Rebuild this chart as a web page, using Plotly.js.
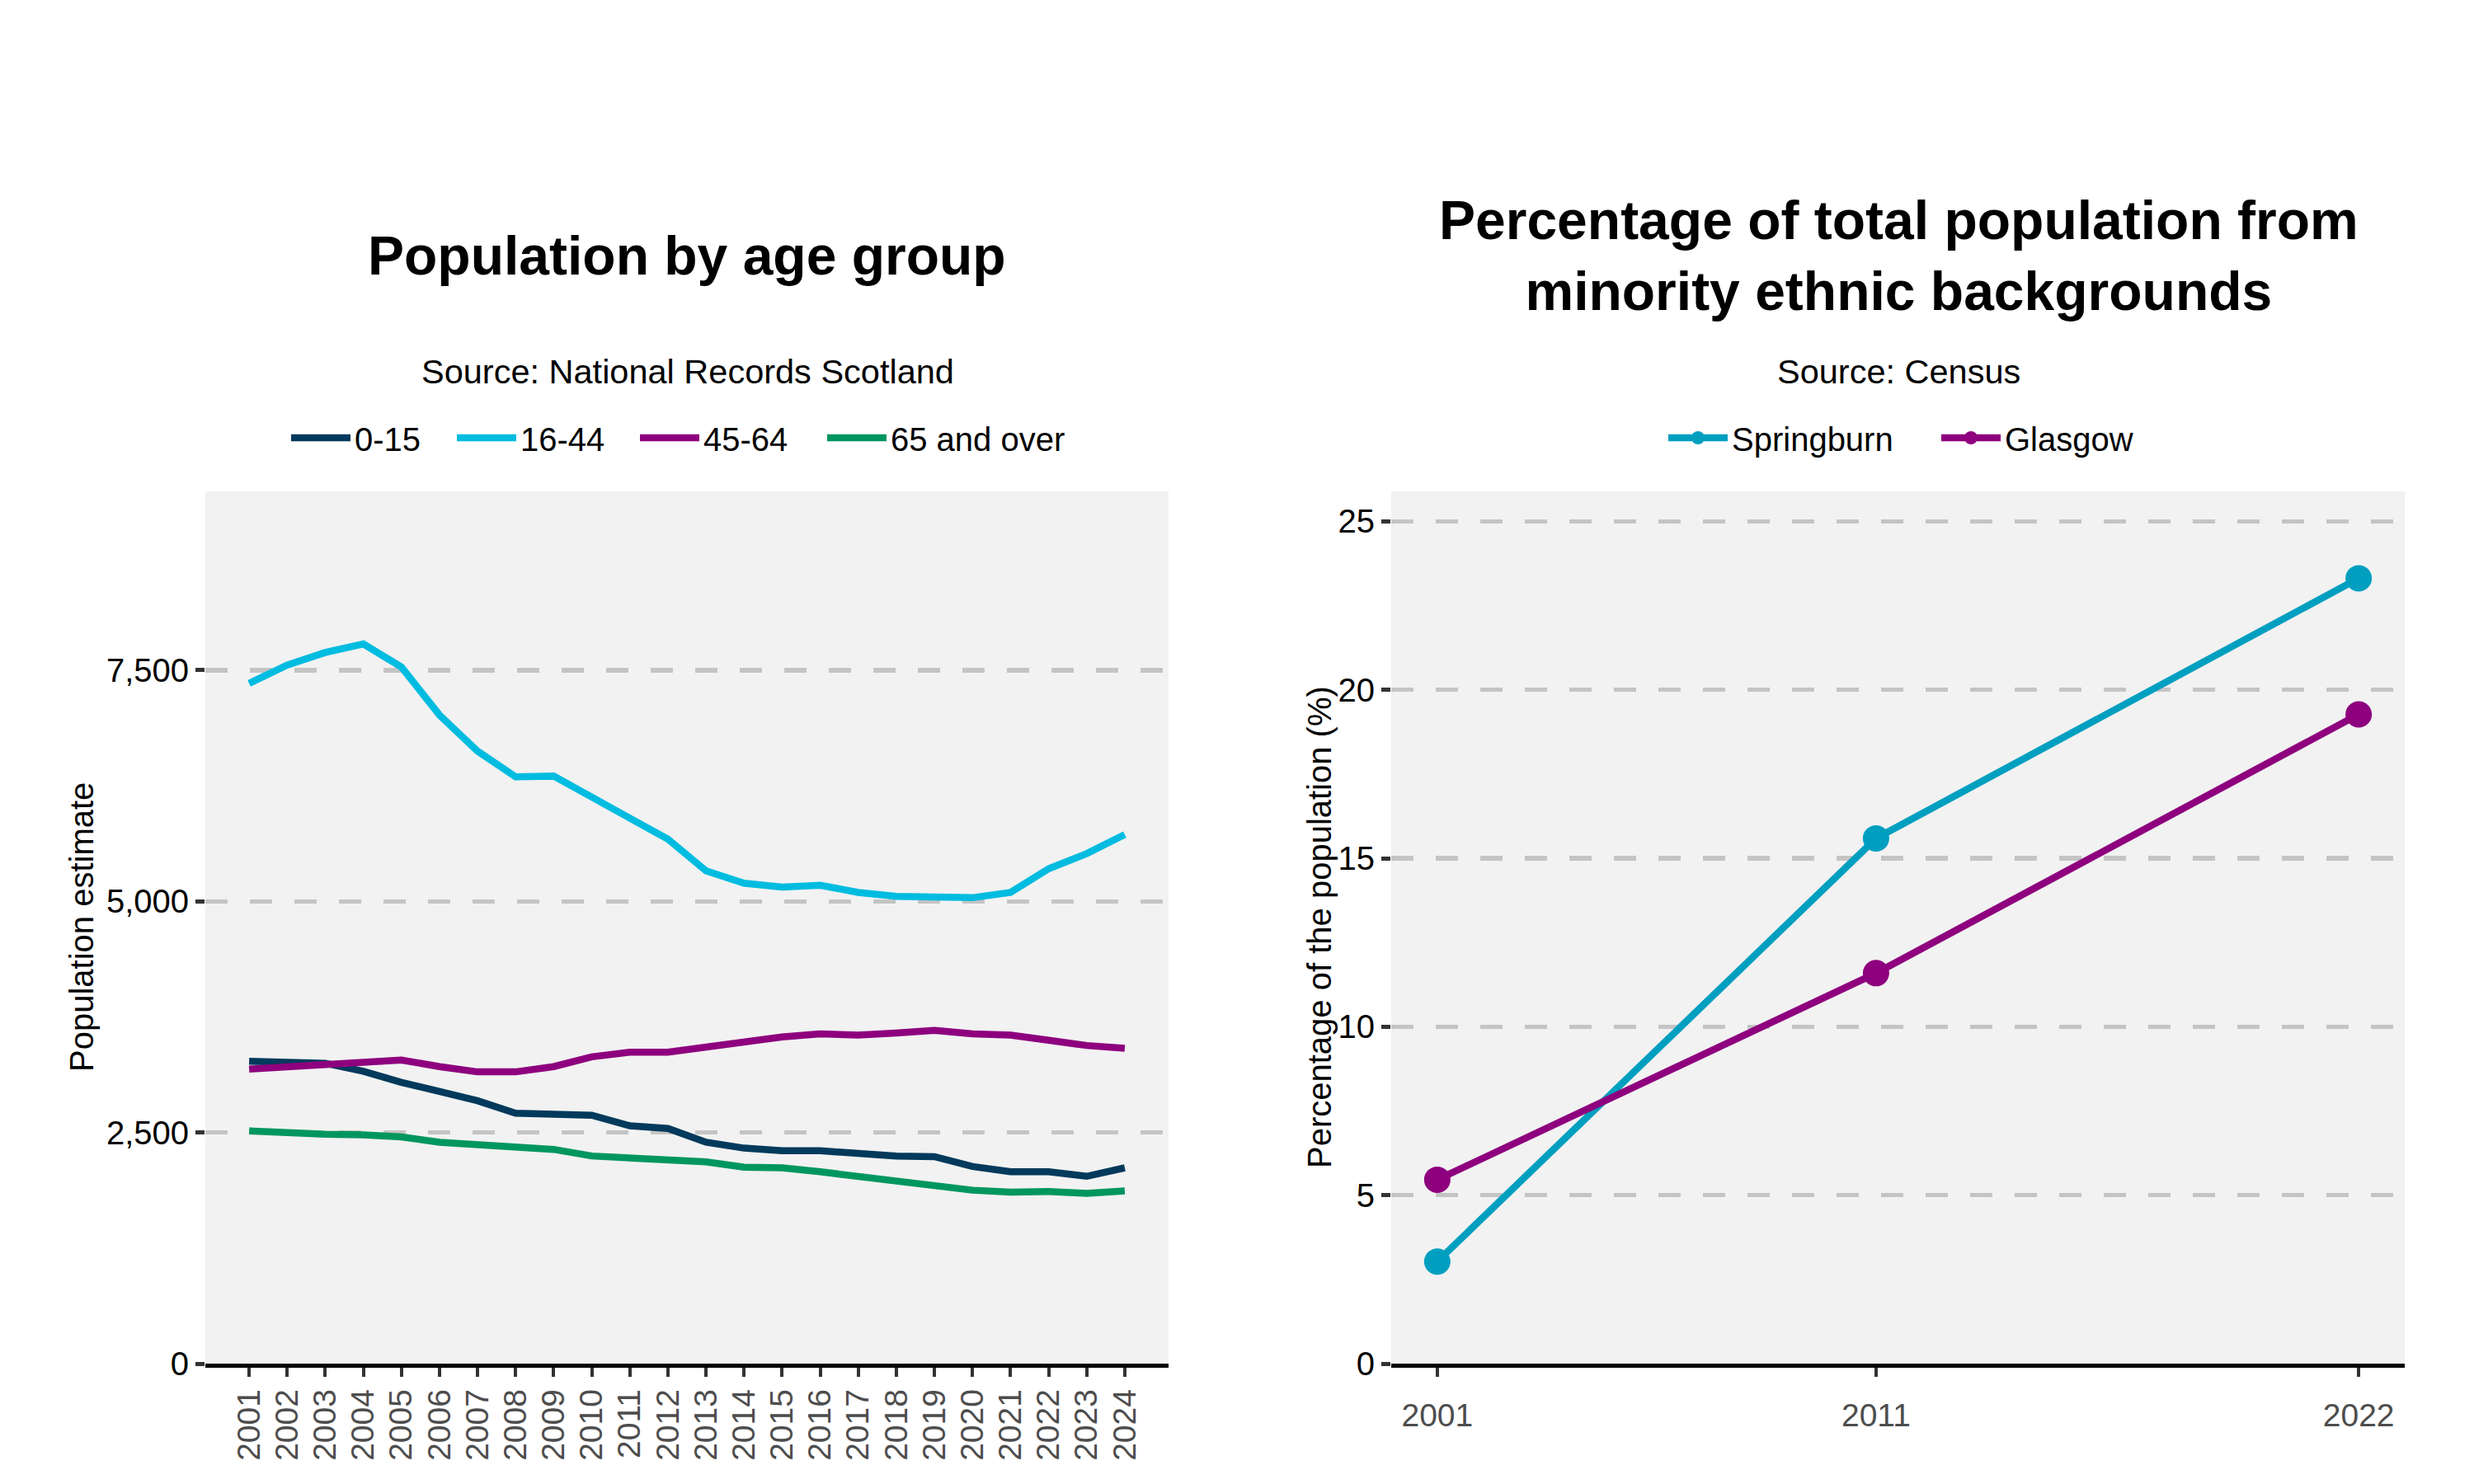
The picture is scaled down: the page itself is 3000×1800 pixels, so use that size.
<!DOCTYPE html>
<html>
<head>
<meta charset="utf-8">
<script src="https://cdn.plot.ly/plotly-3.0.1.min.js"></script>
<style>
  html, body { margin: 0; padding: 0; background: #ffffff; }
  #chart { width: 3000px; height: 1800px; }
</style>
</head>
<body>
<div id="chart"></div>
<script>
// ---- Data: population by age group (National Records Scotland) ----
const years = [2001, 2002, 2003, 2004, 2005, 2006, 2007, 2008, 2009, 2010, 2011, 2012,
               2013, 2014, 2015, 2016, 2017, 2018, 2019, 2020, 2021, 2022, 2023, 2024];
const yearLabels = ["2001", "2002", "2003", "2004", "2005", "2006", "2007", "2008", "2009", "2010", "2011", "2012",
                    "2013", "2014", "2015", "2016", "2017", "2018", "2019", "2020", "2021", "2022", "2023", "2024"];
const age0to15 = [3270, 3256, 3249, 3163, 3042, 2943, 2843, 2708, 2701, 2687, 2573, 2544,
                  2395, 2331, 2303, 2303, 2274, 2246, 2239, 2132, 2075, 2075, 2026, 2118];
const age16to44 = [7358, 7557, 7692, 7784, 7535, 7016, 6625, 6348, 6355, 6135, 5900, 5673,
                   5331, 5197, 5154, 5175, 5097, 5054, 5047, 5040, 5097, 5353, 5517, 5723];
const age45to64 = [3185, 3213, 3242, 3263, 3284, 3213, 3156, 3156, 3213, 3319, 3369, 3369,
                   3426, 3476, 3533, 3568, 3554, 3575, 3604, 3568, 3554, 3498, 3441, 3412];
const age65plus = [2517, 2495, 2481, 2474, 2453, 2395, 2374, 2345, 2317, 2246, 2225, 2197,
                   2182, 2125, 2118, 2075, 2026, 1976, 1919, 1876, 1855, 1862, 1841, 1869];
const popTickVals = [0, 2500, 5000, 7500];
const popTickText = ["0", "2,500", "5,000", "7,500"];

// ---- Data: minority ethnic share (Census) ----
const censusYears = [2001, 2011, 2022];
const censusLabels = ["2001", "2011", "2022"];
const springburnPct = [3.03, 15.59, 23.31];
const glasgowPct = [5.46, 11.59, 19.27];
const pctTickVals = [0, 5, 10, 15, 20, 25];

// ---- Styling ----
const FONT = "Liberation Sans, Arial, Helvetica, sans-serif";
const C_015 = "#033a5c", C_1644 = "#00bce0", C_4564 = "#8e007e", C_65 = "#00965f";
const C_SPR = "#009fc0", C_GLA = "#8e007e";
const LW = 8.5;

const traces = [
  {x: years, y: age0to15, name: "0-15", type: "scatter", mode: "lines",
   line: {color: C_015, width: LW}, xaxis: "x", yaxis: "y", legend: "legend"},
  {x: years, y: age16to44, name: "16-44", type: "scatter", mode: "lines",
   line: {color: C_1644, width: LW}, xaxis: "x", yaxis: "y", legend: "legend2"},
  {x: years, y: age45to64, name: "45-64", type: "scatter", mode: "lines",
   line: {color: C_4564, width: LW}, xaxis: "x", yaxis: "y", legend: "legend3"},
  {x: years, y: age65plus, name: "65 and over", type: "scatter", mode: "lines",
   line: {color: C_65, width: LW}, xaxis: "x", yaxis: "y", legend: "legend4"},
  {x: censusYears, y: springburnPct, name: "Springburn", type: "scatter", mode: "lines+markers",
   line: {color: C_SPR, width: LW}, marker: {color: C_SPR, size: 32},
   xaxis: "x2", yaxis: "y2", legend: "legend5"},
  {x: censusYears, y: glasgowPct, name: "Glasgow", type: "scatter", mode: "lines+markers",
   line: {color: C_GLA, width: LW}, marker: {color: C_GLA, size: 32},
   xaxis: "x2", yaxis: "y2", legend: "legend6"}
];

const W = 3000, H = 1800;
const px = v => v / W;
const py = v => (H - v) / H;

const xCommon = {
  showgrid: false, zeroline: false, showline: true, linecolor: "#000000", linewidth: 4.5,
  ticks: "outside", ticklen: 11, tickwidth: 4, tickcolor: "#333333",
  tickfont: {family: FONT, size: 39, color: "#4d4d4d"}, automargin: false, fixedrange: true
};
const yCommon = {
  showgrid: true, gridcolor: "#c4c4c4", gridwidth: 5.5, griddash: "27px,27px",
  zeroline: false, showline: false,
  ticks: "outside", ticklen: 11, tickwidth: 5, tickcolor: "#333333",
  tickfont: {family: FONT, size: 40, color: "#000000"}, automargin: false, fixedrange: true
};

// one legend box per entry so each entry sits where the reference puts it
const legendAt = xPix => ({
  orientation: "h", x: px(xPix), y: py(531), xanchor: "left", yanchor: "middle",
  font: {family: FONT, size: 40, color: "#000000"}, bgcolor: "rgba(0,0,0,0)",
  itemwidth: 72, tracegroupgap: 0
});

const layout = {
  width: W, height: H,
  margin: {l: 0, r: 0, t: 0, b: 0},
  paper_bgcolor: "#ffffff",
  plot_bgcolor: "#f2f2f2",
  font: {family: FONT, size: 40, color: "#000000"},
  showlegend: true,
  hovermode: false,
  xaxis: Object.assign({}, xCommon, {
    domain: [px(249), px(1417)], range: [1999.85, 2025.15],
    tickvals: years, ticktext: yearLabels, tickangle: -90, anchor: "y"
  }),
  yaxis: Object.assign({}, yCommon, {
    domain: [py(1654), py(596)], range: [0, 9435],
    tickvals: popTickVals, ticktext: popTickText, anchor: "x"
  }),
  xaxis2: Object.assign({}, xCommon, {
    domain: [px(1687), px(2916)], range: [1999.95, 2023.05],
    tickvals: censusYears, ticktext: censusLabels, tickangle: 0, anchor: "y2",
    ticklabelstandoff: 14
  }),
  yaxis2: Object.assign({}, yCommon, {
    domain: [py(1654), py(596)], range: [0, 25.89],
    tickvals: pctTickVals, anchor: "x2"
  }),
  legend: legendAt(348),
  legend2: legendAt(549),
  legend3: legendAt(771),
  legend4: legendAt(998),
  legend5: legendAt(2018),
  legend6: legendAt(2349),
  annotations: [
    {text: "<b>Population by age group</b>", xref: "paper", yref: "paper",
     x: px(833), y: py(310), xanchor: "center", yanchor: "middle", showarrow: false,
     font: {family: FONT, size: 66, color: "#000000"}},
    {text: "<b>Percentage of total population from<br>minority ethnic backgrounds</b>",
     xref: "paper", yref: "paper", x: px(2302), y: py(310), xanchor: "center", yanchor: "middle",
     showarrow: false, font: {family: FONT, size: 66, color: "#000000"}},
    {text: "Source: National Records Scotland", xref: "paper", yref: "paper",
     x: px(834), y: py(450), xanchor: "center", yanchor: "middle", showarrow: false,
     font: {family: FONT, size: 41.5, color: "#000000"}},
    {text: "Source: Census", xref: "paper", yref: "paper",
     x: px(2302), y: py(450), xanchor: "center", yanchor: "middle", showarrow: false,
     font: {family: FONT, size: 41.5, color: "#000000"}},
    {text: "Population estimate", xref: "paper", yref: "paper",
     x: px(99), y: py(1125), xanchor: "center", yanchor: "middle", textangle: -90, showarrow: false,
     font: {family: FONT, size: 40, color: "#000000"}},
    {text: "Percentage of the population (%)", xref: "paper", yref: "paper",
     x: px(1600), y: py(1125), xanchor: "center", yanchor: "middle", textangle: -90, showarrow: false,
     font: {family: FONT, size: 40, color: "#000000"}}
  ]
};

Plotly.newPlot("chart", traces, layout, {displayModeBar: false, staticPlot: true});
</script>
</body>
</html>
